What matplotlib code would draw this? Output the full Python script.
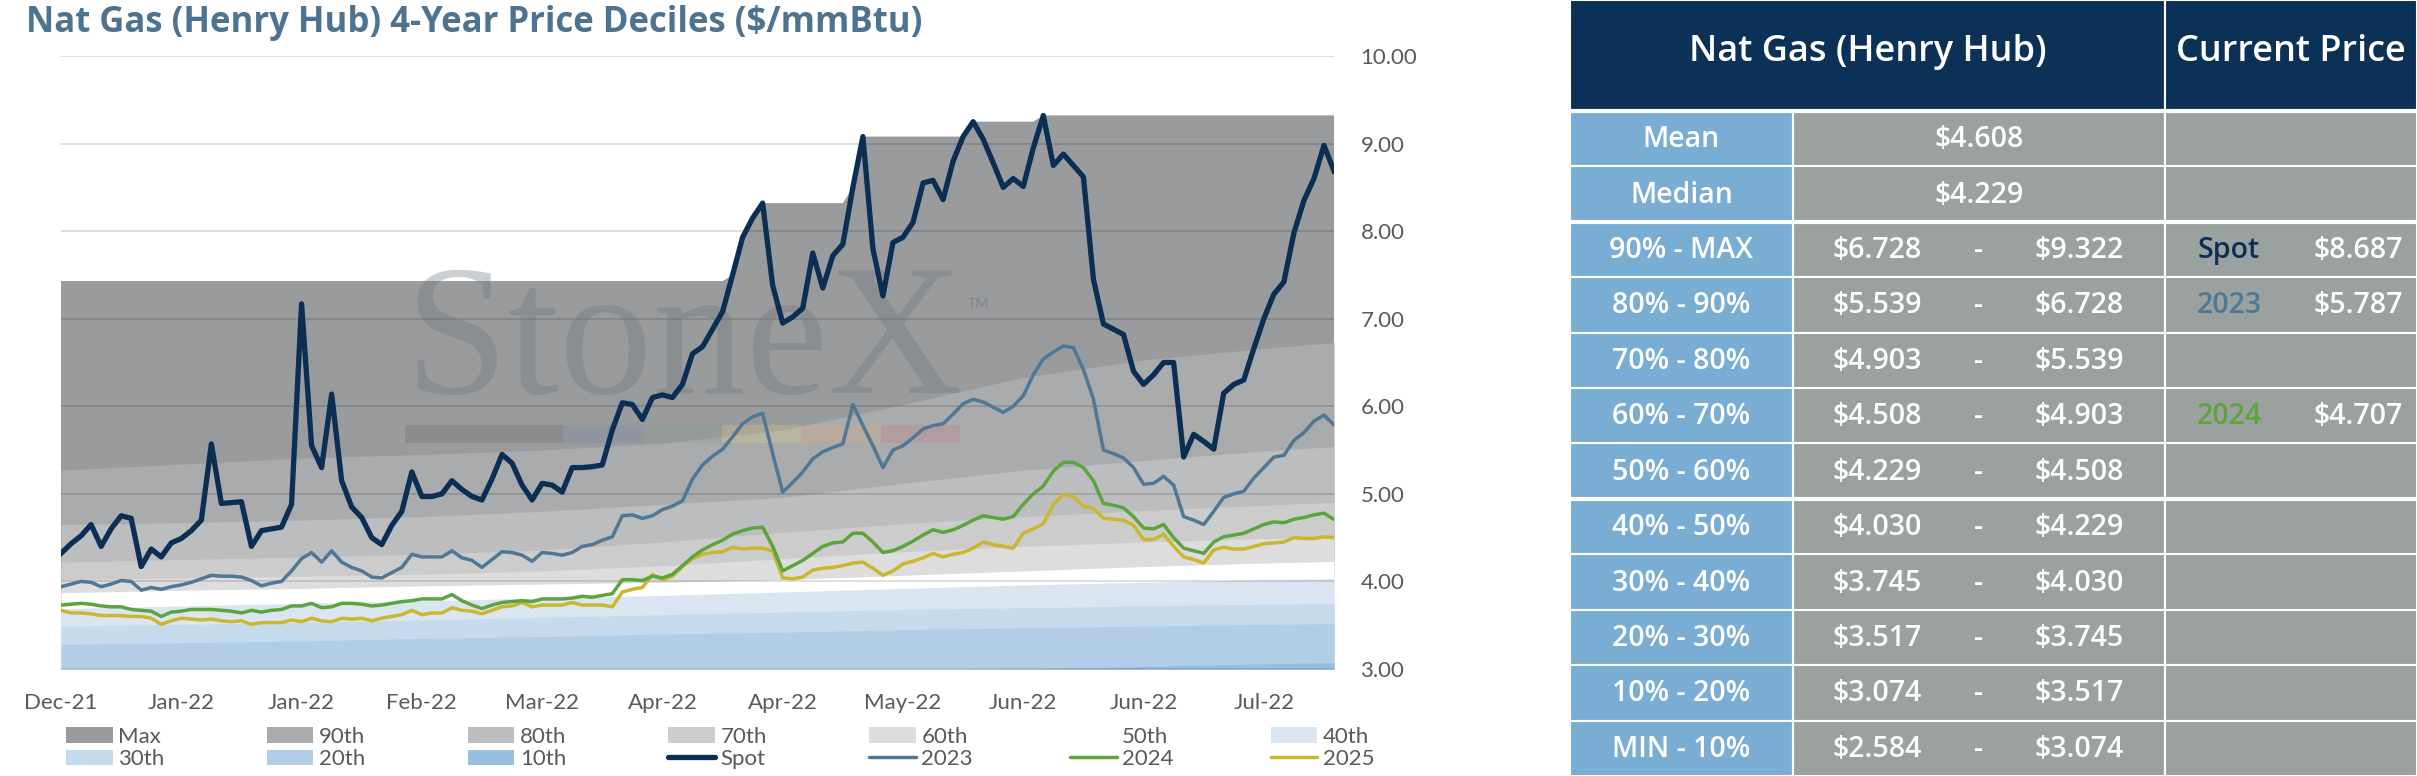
import matplotlib.pyplot as plt
from matplotlib.patches import Patch, Rectangle
from matplotlib.lines import Line2D

plt.rcParams['font.family'] = ['Lato', 'DejaVu Sans']

# ---------------- data ----------------
tick_labels = ["Dec-21", "Jan-22", "Jan-22", "Feb-22", "Mar-22", "Apr-22",
               "Apr-22", "May-22", "Jun-22", "Jun-22", "Jul-22"]
tick_step = 12

spot = [
    4.32, 4.43, 4.52, 4.65, 4.40, 4.60, 4.75, 4.72, 4.17, 4.37,
    4.28, 4.44, 4.49, 4.58, 4.70, 5.57, 4.89, 4.90, 4.91, 4.40,
    4.58, 4.60, 4.62, 4.88, 7.17, 5.55, 5.30, 6.14, 5.15, 4.85,
    4.73, 4.50, 4.42, 4.64, 4.80, 5.25, 4.97, 4.97, 5.00, 5.15,
    5.05, 4.97, 4.93, 5.17, 5.45, 5.35, 5.10, 4.93, 5.12, 5.10,
    5.02, 5.30, 5.30, 5.31, 5.33, 5.73, 6.04, 6.02, 5.85, 6.10,
    6.13, 6.10, 6.25, 6.60, 6.68, 6.88, 7.08, 7.50, 7.93, 8.15,
    8.32, 7.38, 6.95, 7.02, 7.12, 7.75, 7.35, 7.72, 7.85, 8.50,
    9.08, 7.80, 7.26, 7.87, 7.93, 8.10, 8.55, 8.58, 8.36, 8.80,
    9.08, 9.25, 9.05, 8.78, 8.50, 8.60, 8.51, 8.95, 9.32, 8.75,
    8.88, 8.75, 8.62, 7.45, 6.94, 6.88, 6.82, 6.40, 6.25, 6.36,
    6.50, 6.50, 5.42, 5.68, 5.60, 5.51, 6.15, 6.25, 6.30, 6.66,
    7.00, 7.28, 7.42, 7.98, 8.35, 8.60, 8.98, 8.687]

cal_2023 = [
    3.94, 3.97, 4.00, 3.99, 3.94, 3.97, 4.01, 4.00, 3.90, 3.93,
    3.91, 3.94, 3.96, 3.99, 4.03, 4.07, 4.06, 4.06, 4.05, 4.01,
    3.95, 3.98, 4.00, 4.12, 4.26, 4.33, 4.22, 4.35, 4.22, 4.16,
    4.12, 4.05, 4.04, 4.10, 4.16, 4.31, 4.28, 4.28, 4.28, 4.35,
    4.27, 4.24, 4.16, 4.25, 4.34, 4.33, 4.30, 4.23, 4.33, 4.32,
    4.30, 4.33, 4.40, 4.42, 4.47, 4.51, 4.75, 4.76, 4.72, 4.75,
    4.82, 4.86, 4.92, 5.17, 5.33, 5.43, 5.51, 5.65, 5.80, 5.88,
    5.92, 5.46, 5.02, 5.13, 5.25, 5.40, 5.48, 5.53, 5.57, 6.02,
    5.78, 5.55, 5.30, 5.50, 5.55, 5.64, 5.74, 5.78, 5.80, 5.91,
    6.03, 6.08, 6.05, 5.99, 5.93, 6.00, 6.12, 6.36, 6.54, 6.62,
    6.69, 6.67, 6.42, 6.08, 5.50, 5.46, 5.41, 5.30, 5.11, 5.12,
    5.20, 5.10, 4.74, 4.70, 4.65, 4.80, 4.96, 5.00, 5.03, 5.18,
    5.30, 5.42, 5.44, 5.61, 5.70, 5.83, 5.90, 5.787]

cal_2024 = [
    3.73, 3.74, 3.75, 3.74, 3.72, 3.71, 3.71, 3.68, 3.67, 3.66,
    3.60, 3.65, 3.66, 3.68, 3.68, 3.68, 3.67, 3.66, 3.64, 3.67,
    3.65, 3.67, 3.68, 3.72, 3.72, 3.75, 3.70, 3.71, 3.75, 3.75,
    3.74, 3.72, 3.73, 3.75, 3.77, 3.78, 3.80, 3.80, 3.80, 3.85,
    3.78, 3.73, 3.69, 3.73, 3.76, 3.77, 3.78, 3.77, 3.80, 3.80,
    3.80, 3.81, 3.83, 3.82, 3.84, 3.86, 4.02, 4.02, 4.01, 4.06,
    4.04, 4.08, 4.18, 4.28, 4.36, 4.42, 4.47, 4.54, 4.58, 4.61,
    4.62, 4.40, 4.12, 4.18, 4.24, 4.32, 4.40, 4.44, 4.45, 4.55,
    4.55, 4.45, 4.33, 4.35, 4.40, 4.46, 4.53, 4.59, 4.56, 4.59,
    4.64, 4.70, 4.75, 4.73, 4.71, 4.74, 4.88, 5.00, 5.09, 5.26,
    5.36, 5.36, 5.30, 5.15, 4.89, 4.87, 4.84, 4.74, 4.61, 4.60,
    4.65, 4.50, 4.38, 4.35, 4.32, 4.45, 4.51, 4.53, 4.55, 4.60,
    4.65, 4.68, 4.67, 4.71, 4.73, 4.76, 4.78, 4.707]

cal_2025 = [
    3.67, 3.64, 3.64, 3.63, 3.61, 3.61, 3.61, 3.60, 3.60, 3.58,
    3.51, 3.55, 3.58, 3.57, 3.56, 3.57, 3.55, 3.54, 3.55, 3.51,
    3.53, 3.53, 3.53, 3.56, 3.54, 3.58, 3.55, 3.54, 3.58, 3.57,
    3.58, 3.55, 3.58, 3.60, 3.62, 3.67, 3.62, 3.64, 3.64, 3.70,
    3.67, 3.66, 3.63, 3.67, 3.71, 3.72, 3.76, 3.71, 3.73, 3.73,
    3.73, 3.76, 3.73, 3.73, 3.73, 3.71, 3.88, 3.91, 3.93, 4.08,
    4.02, 4.06, 4.17, 4.26, 4.31, 4.33, 4.34, 4.39, 4.37, 4.38,
    4.38, 4.35, 4.04, 4.03, 4.05, 4.13, 4.15, 4.16, 4.18, 4.21,
    4.22, 4.15, 4.07, 4.12, 4.20, 4.23, 4.27, 4.32, 4.28, 4.31,
    4.33, 4.38, 4.45, 4.42, 4.40, 4.38, 4.55, 4.60, 4.66, 4.88,
    4.99, 4.97, 4.86, 4.83, 4.72, 4.71, 4.70, 4.64, 4.48, 4.48,
    4.54, 4.40, 4.28, 4.25, 4.21, 4.36, 4.39, 4.37, 4.37, 4.40,
    4.43, 4.44, 4.45, 4.50, 4.49, 4.49, 4.51, 4.50]

# running 4-year max (steps up when spot makes a new high)
max_day = [0, 66, 67, 68, 69, 70, 78, 79, 80, 90, 91, 97, 98, 127]
max_val = [7.43, 7.43, 7.50, 7.93, 8.15, 8.32, 8.32, 8.50, 9.08, 9.08,
           9.25, 9.25, 9.322, 9.322]

# decile levels of the 4-year window
band_day = [0, 12, 24, 36, 48, 60, 72, 84, 96, 108, 120, 127]
p90 = [5.27, 5.34, 5.41, 5.45, 5.50, 5.58, 5.73, 6.02, 6.33, 6.53, 6.66, 6.728]
p80 = [4.65, 4.67, 4.70, 4.74, 4.80, 4.88, 4.96, 5.12, 5.27, 5.38, 5.49, 5.539]
p70 = [4.22, 4.25, 4.28, 4.31, 4.36, 4.45, 4.56, 4.66, 4.74, 4.81, 4.87, 4.903]
p60 = [4.02, 4.04, 4.06, 4.08, 4.12, 4.18, 4.26, 4.34, 4.40, 4.45, 4.49, 4.508]
p50 = [3.87, 3.90, 3.92, 3.95, 3.97, 3.99, 4.02, 4.07, 4.12, 4.17, 4.21, 4.229]
p40 = [3.69, 3.72, 3.75, 3.78, 3.81, 3.84, 3.88, 3.92, 3.96, 3.99, 4.02, 4.030]
p30 = [3.49, 3.51, 3.53, 3.56, 3.59, 3.62, 3.65, 3.68, 3.70, 3.72, 3.74, 3.745]
p20 = [3.28, 3.30, 3.32, 3.35, 3.37, 3.40, 3.42, 3.45, 3.47, 3.49, 3.51, 3.517]
p10 = [2.90, 2.91, 2.92, 2.93, 2.94, 2.96, 2.97, 2.99, 3.00, 3.03, 3.06, 3.074]

# table
mean_price = 4.608
median_price = 4.229
range_labels = ["90% - MAX", "80% - 90%", "70% - 80%", "60% - 70%", "50% - 60%",
                "40% - 50%", "30% - 40%", "20% - 30%", "10% - 20%", "MIN - 10%"]
range_low = [6.728, 5.539, 4.903, 4.508, 4.229, 4.030, 3.745, 3.517, 3.074, 2.584]
range_high = [9.322, 6.728, 5.539, 4.903, 4.508, 4.229, 4.030, 3.745, 3.517, 3.074]
current_names = ["Spot", "2023", "2024"]
current_prices = [8.687, 5.787, 4.707]

# ---------------- styles ----------------
band_colors = {
    "Max": "#9a9b9d", "90th": "#aaabad", "80th": "#bcbdbf", "70th": "#cccccd",
    "60th": "#dddddd", "50th": "#ffffff", "40th": "#d9e6f2", "30th": "#c5dbed",
    "20th": "#b1cee6", "10th": "#98bfe2",
}
line_colors = {"Spot": "#0b2f54", "2023": "#4e7895", "2024": "#5ca53d", "2025": "#cbb62f"}
text_grey = "#595959"
navy = "#0c3156"
cell_blue = "#7aadd4"
cell_grey = "#9aa19f"
wide_font = ["Open Sans", "DejaVu Sans"]

fig = plt.figure(figsize=(24.17, 7.76), dpi=100)
fig.patch.set_facecolor("white")

# ---------------- chart ----------------
ax = fig.add_axes([61 / 2417, 107 / 776, 1273 / 2417, 613 / 776])

ax.fill_between(max_day, 0, max_val, color=band_colors["Max"], lw=0, zorder=1)
bands = [("90th", p90), ("80th", p80), ("70th", p70), ("60th", p60), ("50th", p50),
         ("40th", p40), ("30th", p30), ("20th", p20), ("10th", p10)]
for name, vals in bands:
    ax.fill_between(band_day, 0, vals, color=band_colors[name], lw=0, zorder=1)

# watermark
ax.text(0.27, 0.45, "StoneX", transform=ax.transAxes, fontsize=134,
        family="Liberation Serif", color="#6f777d", alpha=0.35, zorder=2,
        ha="left", va="baseline")
ax.text(0.7125, 0.589, "TM", transform=ax.transAxes, fontsize=10,
        color="#7c8287", alpha=0.7, fontweight="bold", zorder=2)
bar_colors = ["#5b6065", "#5b6065", "#6f8aa6", "#7fa089", "#e3d27a", "#e3a86f", "#c9767a"]
for k, c in enumerate(bar_colors):
    ax.add_patch(Rectangle((0.27 + k * 0.0623, 0.369), 0.0623, 0.029,
                           transform=ax.transAxes, color=c, alpha=0.25, lw=0, zorder=2))

days = range(len(spot))
ax.plot(days, cal_2025, color=line_colors["2025"], lw=2.5, zorder=3)
ax.plot(days, cal_2024, color=line_colors["2024"], lw=2.5, zorder=3)
ax.plot(days, cal_2023, color=line_colors["2023"], lw=2.5, zorder=4)
ax.plot(days, spot, color=line_colors["Spot"], lw=3.8, zorder=5)

ax.set_xlim(0, len(spot) - 1)
ax.set_ylim(3, 10)
ax.set_yticks(range(3, 11))
ax.set_yticklabels([f"{v:.2f}" for v in range(3, 11)])
ax.set_xticks(range(0, tick_step * len(tick_labels), tick_step))
ax.set_xticklabels(tick_labels)
ax.yaxis.tick_right()
ax.tick_params(axis="x", length=0, pad=17, labelsize=16, labelcolor=text_grey)
ax.tick_params(axis="y", length=0, pad=19, labelsize=16, labelcolor=text_grey)
ax.grid(axis="y", color="black", alpha=0.15, lw=1.2)
ax.set_axisbelow("line")
for s in ax.spines.values():
    s.set_visible(False)

fig.text(26 / 2417, 1 - 32 / 776, "Nat Gas (Henry Hub) 4-Year Price Deciles ($/mmBtu)",
         fontsize=25, fontweight="bold", color="#4d7391", ha="left", va="baseline",
         family=wide_font)

# legend: one small legend per column, two rows each
def handle(n):
    if n in line_colors:
        return Line2D([], [], color=line_colors[n], lw=3.8 if n == "Spot" else 2.5,
                      solid_capstyle="round")
    return Patch(facecolor=band_colors[n], edgecolor="none")

legend_cols = [["Max", "30th"], ["90th", "20th"], ["80th", "10th"], ["70th", "Spot"],
               ["60th", "2023"], ["50th", "2024"], ["40th", "2025"]]
for k, names in enumerate(legend_cols):
    fig.legend([handle(n) for n in names], names, loc="upper left",
               bbox_to_anchor=((66 + 200.8 * k) / 2417, 1 - 727 / 776),
               frameon=False, fontsize=16, handlelength=2.1, handleheight=0.7,
               handletextpad=0.25, labelspacing=0.1, borderpad=0, borderaxespad=0,
               labelcolor=text_grey)

# ---------------- table ----------------
tab = fig.add_axes([1570 / 2417, 0, 847 / 2417, 1])
tab.set_xlim(0, 1)
tab.set_ylim(14, 0)
tab.axis("off")

c1, c2 = 0.263, 0.7025  # column edges
val_mid = (c1 + c2) / 2
cur_mid = (c2 + 1) / 2
body = dict(fontsize=20.5, ha="center", va="center", family=wide_font, fontweight="semibold")

def cell(x, y, w, h, color):
    tab.add_patch(Rectangle((x, y), w, h, facecolor=color, edgecolor="white", lw=1.5))

cell(0, 0, c2, 2, navy)
cell(c2, 0, 1 - c2, 2, navy)
tab.text(c2 / 2, 0.94, "Nat Gas (Henry Hub)", color="white", fontsize=26,
         ha="center", va="center", family=wide_font, fontweight="semibold")
tab.text(cur_mid, 0.94, "Current Price", color="white", fontsize=26,
         ha="center", va="center", family=wide_font, fontweight="semibold")

row_labels = ["Mean", "Median"] + range_labels
for r, lab in enumerate(row_labels):
    y = 2 + r
    cell(0, y, c1, 1, cell_blue)
    cell(c1, y, c2 - c1, 1, cell_grey)
    cell(c2, y, 1 - c2, 1, cell_grey)
    tab.text(c1 / 2, y + 0.52, lab, color="white", **body)

tab.text(val_mid, 2.52, f"${mean_price:.3f}", color="white", **body)
tab.text(val_mid, 3.52, f"${median_price:.3f}", color="white", **body)
for r, (lo, hi) in enumerate(zip(range_low, range_high)):
    y = 4 + r + 0.52
    tab.text(val_mid - 0.1204, y, f"${lo:.3f}", color="white", **body)
    tab.text(val_mid, y, "-", color="white", **body)
    tab.text(val_mid + 0.118, y, f"${hi:.3f}", color="white", **body)

# current prices go in the decile row that contains them
for name, price in zip(current_names, current_prices):
    r = next(i for i, (lo, hi) in enumerate(zip(range_low, range_high)) if lo <= price <= hi)
    y = 4 + r + 0.52
    tab.text(cur_mid - 0.073, y, name, color=line_colors[name], **body)
    tab.text(cur_mid + 0.079, y, f"${price:.3f}", color="white", **body)

for yy in (2, 4, 9):
    tab.axhline(yy, color="white", lw=3)

fig.savefig("out.png", dpi=100)
